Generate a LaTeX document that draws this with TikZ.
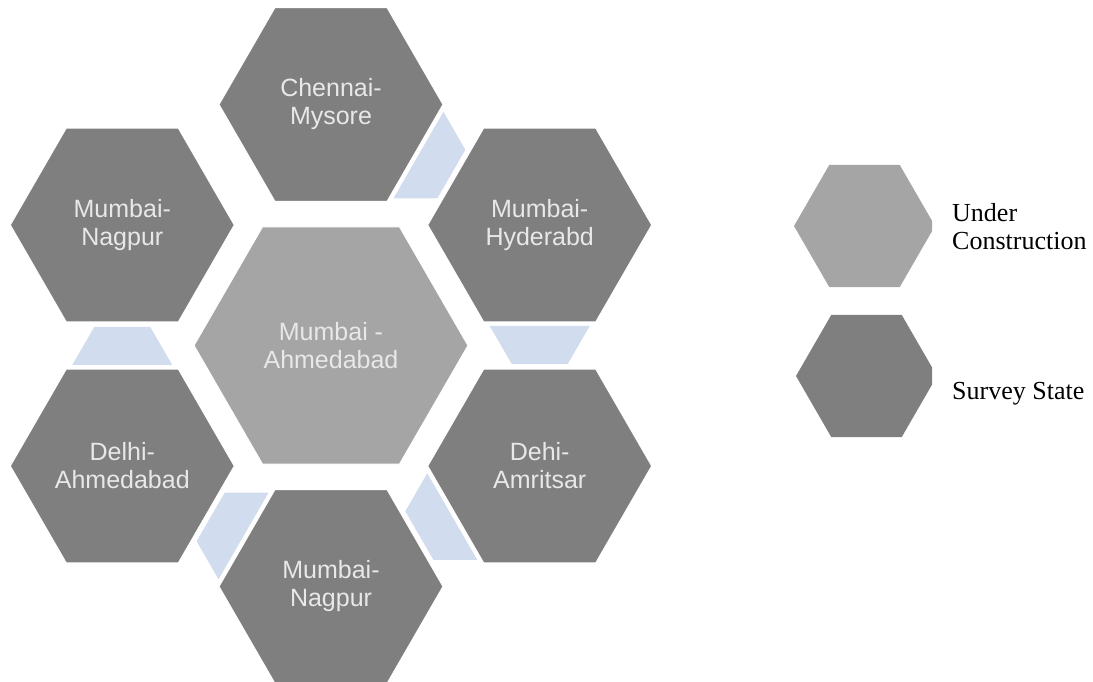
\documentclass[tikz,border=0pt]{standalone}
\usepackage{fontspec}
\setmainfont{Liberation Serif}
\setsansfont{Liberation Sans}
\usetikzlibrary{shapes.geometric,positioning}
\definecolor{hxdark}{RGB}{127,127,127}
\definecolor{hxlight}{RGB}{165,165,165}
\definecolor{hxblue}{RGB}{209,221,238}
\definecolor{hxtext}{RGB}{232,232,232}

\tikzset{hxcell/.style={regular polygon,regular polygon sides=6,inner sep=0pt,minimum size=224pt,fill=hxdark,draw=white,line width=1pt,
                        text=hxtext,align=center,font=\sffamily\fontsize{25}{28}\selectfont},
         hxhub/.style={hxcell,minimum size=274pt,fill=hxlight},
         hxlink/.style={fill=hxblue},
         hxkey/.style={regular polygon,regular polygon sides=6,inner sep=0pt,minimum size=141pt},
         hxlab/.style={inner sep=0pt,anchor=west,align=left,font=\fontsize{26}{28}\selectfont}}

\begin{document}
\begin{tikzpicture}[x=1pt,y=1pt]
    \useasboundingbox (0,0) rectangle (1093,681);
    % ring of routes round the hub
    \node[hxhub] (hub) at (331,335.5) {Mumbai -\\Ahmedabad};
    \foreach \a/\n/\t in {90/top/{Chennai-\\Mysore},30/ur/{Mumbai-\\Hyderabd},-30/lr/{Dehi-\\Amritsar},
                          -90/bot/{Mumbai-\\Nagpur},-150/ll/{Delhi-\\Ahmedabad},150/ul/{Mumbai-\\Nagpur}}
      \node[hxcell] (\n) at ([shift={(\a:241)}]hub.center) {\t};
    \foreach \n/\a in {top/-30,ur/-90,lr/-150,bot/150,ll/90}
      \fill[hxlink,shift={(\n.center)},rotate=\a] (101,-50) -- (101,50) -- (139,28) -- (139,-28) -- cycle;
    % legend
    \begin{scope}
      \clip (0,0) rectangle (932,681);
      \node[hxkey,fill=hxlight] (keyu) at (864.5,455) {};
      \node[hxkey,fill=hxdark] (keys) at (866.5,305) {};
    \end{scope}
    \node[hxlab] (labu) at (952,454) {Under\\Construction};
    \node[hxlab] (labs) at (952,287) {Survey State};
  \end{tikzpicture}
\end{document}
